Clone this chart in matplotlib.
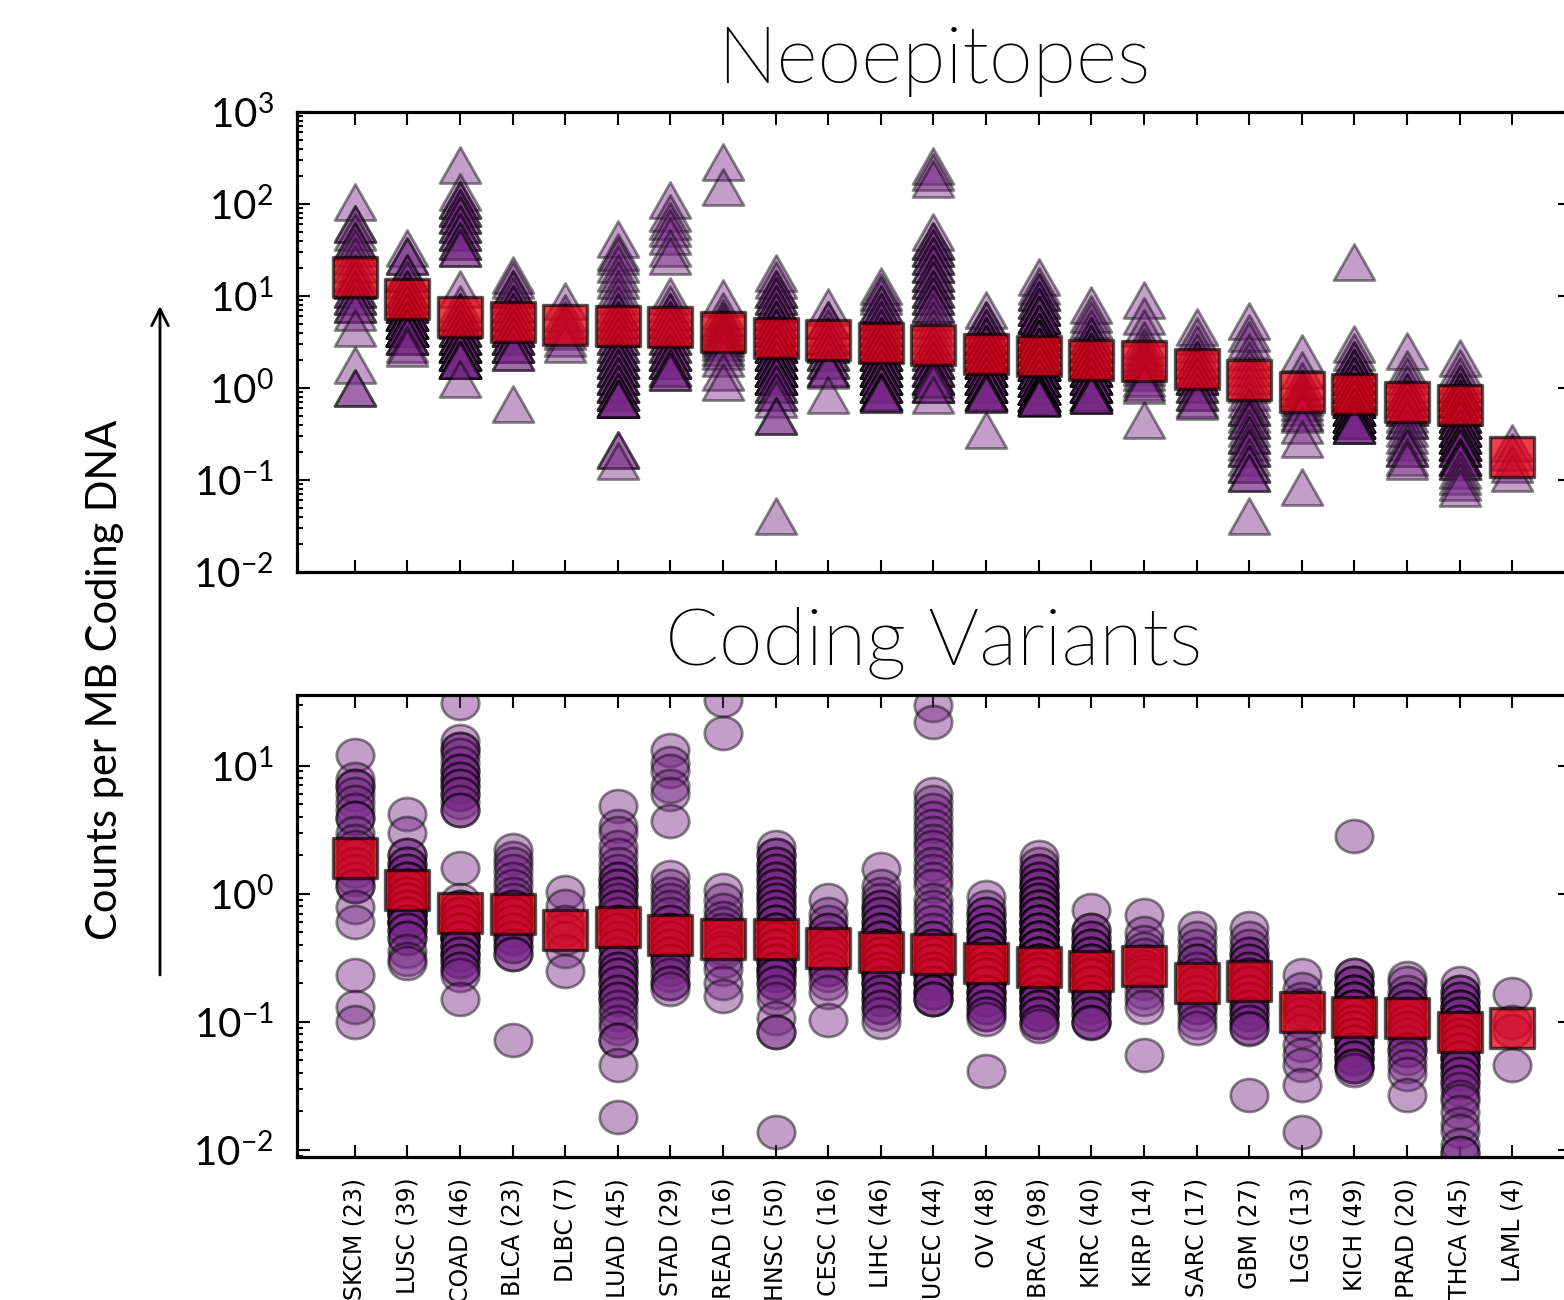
import os
import numpy as np
import matplotlib
matplotlib.use("Agg")
import matplotlib.pyplot as plt
from matplotlib.path import Path
from matplotlib import font_manager as fm

plt.rcParams['font.family'] = ['Lato', 'DejaVu Sans']
plt.rcParams['mathtext.default'] = 'regular'

# cancer types and number of patients
cancers = ['SKCM', 'LUSC', 'COAD', 'BLCA', 'DLBC', 'LUAD', 'STAD', 'READ',
           'HNSC', 'CESC', 'LIHC', 'UCEC', 'OV', 'BRCA', 'KIRC', 'KIRP',
           'SARC', 'GBM', 'LGG', 'KICH', 'PRAD', 'THCA', 'LAML']
patients = [23, 39, 46, 23, 7, 45, 29, 16, 50, 16, 46, 44, 48, 98, 40, 14,
            17, 27, 13, 49, 20, 45, 4]

# medians (red squares)
neo_median = [15.9, 9.3, 5.9, 5.2, 4.8, 4.7, 4.6, 4.1, 3.5, 3.3, 3.07, 2.96,
              2.35, 2.25, 2.04, 1.95, 1.62, 1.22, 0.90, 0.85, 0.70, 0.66, 0.18]
var_median = [1.89, 1.06, 0.71, 0.69, 0.52, 0.55, 0.48, 0.44, 0.44, 0.375,
              0.35, 0.34, 0.29, 0.27, 0.25, 0.275, 0.20, 0.21, 0.12, 0.11,
              0.107, 0.083, 0.089]

# neoepitopes per MB, one list per cancer type
neo_skcm = [104, 60, 60, 50, 40, 40, 33, 27, 22, 18, 15, 15, 12, 12, 10, 10,
            8.2, 8.2, 6.7, 4.5, 1.8, 1.0, 1.0]
neo_lusc = [33, 27, 27, 18, 18, 15, 12, 12, 10, 10, 8.2, 8.2, 8.2, 6.7, 6.7,
            6.7, 6.7, 6.7, 5.5, 5.5, 5.5, 5.5, 5.5, 5.5, 4.5, 4.5, 4.5, 4.5,
            4.5, 4.5, 4.5, 4.5, 4.5, 4.5, 3.7, 3.7, 3.7, 3.0, 2.7]
neo_coad = [265, 135, 110, 110, 90, 90, 75, 75, 60, 60, 50, 50, 40, 40, 33,
            33, 12, 8.2, 6.7, 6.7, 5.5, 5.5, 4.5, 4.5, 4.5, 3.7, 3.7, 3.7, 3.7,
            3.0, 3.0, 3.0, 3.0, 3.0, 2.45, 2.45, 2.45, 2.45, 2.45, 2.0, 2.0,
            2.0, 2.0, 2.0, 2.0, 1.26]
neo_blca = [17, 15, 12, 12, 10, 8.2, 8.2, 6.7, 6.7, 5.5, 5.5, 4.5, 4.5, 4.5,
            3.7, 3.7, 3.7, 3.0, 3.0, 3.0, 2.45, 2.45, 0.67]
neo_dlbc = [8.9, 6.5, 5.5, 4.8, 4.2, 3.5, 3.0]
neo_luad = [42, 30, 27, 22, 18, 15, 12, 10, 8.2, 6.7, 6.7, 5.5, 5.5, 4.5, 4.5,
            3.7, 3.7, 3.0, 3.0, 2.45, 2.45, 2.45, 2.0, 2.0, 2.0, 1.65, 1.65,
            1.65, 1.35, 1.35, 1.35, 1.1, 1.1, 1.1, 0.9, 0.9, 0.9, 0.75, 0.75,
            0.75, 0.75, 0.75, 0.21, 0.21, 0.16]
neo_stad = [110, 80, 65, 55, 45, 33, 27, 10, 8.2, 6.7, 6.7, 5.5, 5.5, 4.5,
            4.5, 3.7, 3.7, 3.0, 3.0, 2.45, 2.45, 2.45, 2.0, 2.0, 2.0, 1.65,
            1.65, 1.5, 1.5]
neo_read = [285, 152, 9.6, 6.8, 5.8, 5.2, 4.6, 4.2, 3.8, 3.5, 3.2, 2.8, 2.5,
            2.1, 1.5, 1.15]
neo_hnsc = [18, 15, 12, 12, 10, 10, 8.2, 8.2, 6.7, 6.7, 5.5, 5.5, 5.5, 4.5,
            4.5, 4.5, 3.7, 3.7, 3.7, 3.0, 3.0, 3.0, 3.0, 2.45, 2.45, 2.45,
            2.45, 2.0, 2.0, 2.0, 2.0, 2.0, 1.65, 1.65, 1.65, 1.65, 1.65, 1.35,
            1.35, 1.35, 1.35, 1.35, 1.1, 1.1, 0.9, 0.9, 0.75, 0.5, 0.5, 0.041]
neo_cesc = [7.6, 5.5, 5.5, 4.5, 3.7, 3.7, 3.0, 3.0, 2.45, 2.45, 2.0, 2.0,
            1.65, 1.65, 1.55, 0.83]
neo_lihc = [13, 11, 10, 8.2, 8.2, 6.7, 6.7, 5.5, 5.5, 4.5, 4.5, 3.7, 3.7, 3.7,
            3.0, 3.0, 3.0, 3.0, 2.45, 2.45, 2.45, 2.45, 2.0, 2.0, 2.0, 2.0,
            2.0, 1.65, 1.65, 1.65, 1.65, 1.65, 1.35, 1.35, 1.35, 1.35, 1.35,
            1.1, 1.1, 1.1, 1.1, 0.9, 0.9, 0.9, 0.85, 0.85]
neo_ucec = [262, 220, 185, 50, 40, 40, 33, 33, 27, 27, 22, 22, 18, 18, 15, 15,
            12, 12, 10, 10, 8.2, 8.2, 6.7, 5.5, 4.5, 3.7, 3.0, 3.0, 2.45, 2.45,
            2.0, 2.0, 2.0, 1.65, 1.65, 1.65, 1.35, 1.35, 1.35, 1.1, 1.1, 1.1,
            1.26, 0.83]
neo_ov = [7.0, 5.5, 5.5, 4.5, 4.5, 3.7, 3.7, 3.7, 3.0, 3.0, 3.0, 3.0, 2.45,
          2.45, 2.45, 2.45, 2.45, 2.0, 2.0, 2.0, 2.0, 2.0, 2.0, 1.65, 1.65,
          1.65, 1.65, 1.65, 1.65, 1.35, 1.35, 1.35, 1.35, 1.35, 1.35, 1.1, 1.1,
          1.1, 1.1, 1.1, 1.1, 0.9, 0.9, 0.9, 0.9, 0.85, 0.85, 0.35]
neo_brca = [16, 13, 11, 11, 9, 9, 7.5, 7.5, 7.5, 6.2, 6.2, 6.2, 6.2, 5, 5, 5,
            5, 5, 4.1, 4.1, 4.1, 4.1, 4.1, 4.1, 3.4, 3.4, 3.4, 3.4, 3.4, 3.4,
            3.4, 2.8, 2.8, 2.8, 2.8, 2.8, 2.8, 2.8, 2.8, 2.3, 2.3, 2.3, 2.3,
            2.3, 2.3, 2.3, 2.3, 2.3, 1.9, 1.9, 1.9, 1.9, 1.9, 1.9, 1.9, 1.9,
            1.9, 1.55, 1.55, 1.55, 1.55, 1.55, 1.55, 1.55, 1.55, 1.55, 1.3,
            1.3, 1.3, 1.3, 1.3, 1.3, 1.3, 1.3, 1.3, 1.05, 1.05, 1.05, 1.05,
            1.05, 1.05, 1.05, 1.05, 1.05, 0.88, 0.88, 0.88, 0.88, 0.88, 0.88,
            0.88, 0.8, 0.8, 0.8, 0.8, 0.8, 0.78, 0.78]
neo_kirc = [8.0, 6.3, 5.5, 4.5, 3.7, 3.7, 3.0, 3.0, 3.0, 2.45, 2.45, 2.45,
            2.45, 2.0, 2.0, 2.0, 2.0, 2.0, 1.65, 1.65, 1.65, 1.65, 1.65, 1.35,
            1.35, 1.35, 1.35, 1.35, 1.1, 1.1, 1.1, 1.1, 1.1, 0.9, 0.9, 0.9,
            0.9, 0.84, 0.84, 0.84]
neo_kirp = [9.0, 6.0, 4.5, 3.3, 2.8, 2.4, 2.1, 1.9, 1.7, 1.5, 1.3, 1.15, 1.07,
            0.45]
neo_sarc = [4.6, 3.7, 3.0, 2.45, 2.0, 2.0, 1.65, 1.65, 1.35, 1.35, 1.35, 1.1,
            1.1, 0.9, 0.9, 0.75, 0.72]
neo_gbm = [5.3, 4.0, 3.3, 2.45, 2.0, 1.65, 1.35, 1.1, 0.9, 0.75, 0.62, 0.62,
           0.52, 0.45, 0.45, 0.37, 0.31, 0.31, 0.26, 0.22, 0.22, 0.18, 0.15,
           0.15, 0.12, 0.12, 0.041]
neo_lgg = [2.4, 1.55, 1.2, 1.0, 0.9, 0.8, 0.7, 0.62, 0.55, 0.52, 0.4, 0.28,
           0.083]
neo_kich = [23.5, 3.0, 2.45, 2.0, 2.0, 1.65, 1.65, 1.65, 1.35, 1.35, 1.35,
            1.35, 1.1, 1.1, 1.1, 1.1, 1.1, 0.9, 0.9, 0.9, 0.9, 0.9, 0.9, 0.75,
            0.75, 0.75, 0.75, 0.75, 0.75, 0.62, 0.62, 0.62, 0.62, 0.62, 0.62,
            0.52, 0.52, 0.52, 0.52, 0.52, 0.52, 0.45, 0.45, 0.45, 0.45, 0.45,
            0.4, 0.4, 0.4]
neo_prad = [2.5, 1.6, 1.35, 1.1, 0.9, 0.9, 0.75, 0.75, 0.62, 0.62, 0.52, 0.45,
            0.45, 0.37, 0.31, 0.26, 0.22, 0.22, 0.18, 0.16]
neo_thca = [2.1, 1.65, 1.35, 1.1, 1.1, 0.9, 0.9, 0.9, 0.75, 0.75, 0.75, 0.62,
            0.62, 0.62, 0.52, 0.52, 0.52, 0.45, 0.45, 0.45, 0.45, 0.37, 0.37,
            0.37, 0.37, 0.31, 0.31, 0.31, 0.31, 0.26, 0.26, 0.26, 0.26, 0.22,
            0.22, 0.22, 0.18, 0.18, 0.18, 0.16, 0.16, 0.13, 0.11, 0.095, 0.081]
neo_laml = [0.25, 0.2, 0.15, 0.12]

# coding variants per MB
var_skcm = [12, 7.9, 6.9, 6.9, 6.0, 5.2, 4.5, 3.9, 3.9, 3.0, 2.6, 2.3, 2.0,
            1.7, 1.5, 1.3, 1.15, 1.15, 0.79, 0.6, 0.23, 0.13, 0.1]
var_lusc = [4.2, 3.0, 2.0, 2.0, 1.7, 1.7, 1.5, 1.5, 1.3, 1.3, 1.3, 1.15, 1.15,
            1.15, 1.0, 1.0, 1.0, 0.9, 0.9, 0.9, 0.79, 0.79, 0.79, 0.79, 0.69,
            0.69, 0.69, 0.69, 0.6, 0.6, 0.6, 0.6, 0.52, 0.52, 0.45, 0.45, 0.36,
            0.31, 0.29]
var_coad = [31, 15.5, 13.5, 13.5, 12, 10.4, 9, 9, 7.9, 7.9, 6.9, 6.9, 6.0,
            6.0, 5.2, 4.5, 4.5, 1.6, 0.9, 0.79, 0.79, 0.69, 0.69, 0.69, 0.6,
            0.6, 0.6, 0.52, 0.52, 0.52, 0.45, 0.45, 0.45, 0.45, 0.39, 0.39,
            0.39, 0.34, 0.34, 0.34, 0.3, 0.3, 0.26, 0.26, 0.23, 0.15]
var_blca = [2.2, 1.9, 1.7, 1.5, 1.3, 1.15, 1.0, 0.9, 0.79, 0.79, 0.69, 0.69,
            0.6, 0.6, 0.52, 0.52, 0.45, 0.45, 0.39, 0.39, 0.34, 0.34, 0.072]
var_dlbc = [1.04, 0.8, 0.6, 0.52, 0.45, 0.36, 0.25]
var_luad = [4.8, 3.4, 3.0, 2.3, 2.0, 1.7, 1.5, 1.3, 1.3, 1.15, 1.15, 1.0, 1.0,
            0.9, 0.79, 0.79, 0.69, 0.6, 0.6, 0.52, 0.52, 0.45, 0.39, 0.39,
            0.34, 0.3, 0.3, 0.26, 0.26, 0.23, 0.23, 0.2, 0.2, 0.17, 0.17, 0.15,
            0.15, 0.13, 0.115, 0.1, 0.09, 0.072, 0.072, 0.046, 0.018]
var_stad = [13.3, 10.4, 9.0, 6.9, 6.0, 3.7, 1.35, 1.15, 1.0, 0.9, 0.79, 0.69,
            0.6, 0.6, 0.52, 0.52, 0.45, 0.45, 0.39, 0.39, 0.34, 0.34, 0.3, 0.3,
            0.26, 0.23, 0.2, 0.2, 0.18]
var_read = [32.6, 18, 1.07, 0.9, 0.75, 0.65, 0.58, 0.52, 0.47, 0.42, 0.38,
            0.35, 0.3, 0.26, 0.2, 0.16]
var_hnsc = [2.3, 2.0, 2.0, 1.7, 1.7, 1.5, 1.5, 1.3, 1.3, 1.15, 1.15, 1.0, 1.0,
            0.9, 0.9, 0.79, 0.79, 0.69, 0.69, 0.6, 0.6, 0.6, 0.52, 0.52, 0.52,
            0.45, 0.45, 0.45, 0.39, 0.39, 0.39, 0.34, 0.34, 0.34, 0.3, 0.3,
            0.3, 0.26, 0.26, 0.26, 0.23, 0.23, 0.2, 0.2, 0.17, 0.15, 0.107,
            0.083, 0.083, 0.0138]
var_cesc = [0.9, 0.69, 0.6, 0.52, 0.52, 0.45, 0.39, 0.39, 0.34, 0.3, 0.26,
            0.26, 0.23, 0.2, 0.17, 0.104]
var_lihc = [1.55, 1.15, 1.0, 0.9, 0.79, 0.79, 0.69, 0.69, 0.6, 0.6, 0.52,
            0.52, 0.52, 0.45, 0.45, 0.45, 0.39, 0.39, 0.39, 0.39, 0.34, 0.34,
            0.34, 0.34, 0.3, 0.3, 0.3, 0.3, 0.26, 0.26, 0.26, 0.26, 0.23, 0.23,
            0.23, 0.2, 0.2, 0.2, 0.17, 0.17, 0.15, 0.15, 0.13, 0.13, 0.115, 0.1]
var_ucec = [30, 22, 6.0, 5.2, 4.5, 3.9, 3.4, 3.0, 2.6, 2.3, 2.0, 1.7, 1.5, 1.3,
            1.15, 0.9, 0.79, 0.69, 0.6, 0.52, 0.45, 0.45, 0.39, 0.39, 0.34,
            0.34, 0.3, 0.3, 0.3, 0.26, 0.26, 0.26, 0.23, 0.23, 0.23, 0.2, 0.2,
            0.2, 0.17, 0.17, 0.17, 0.15, 0.15, 0.15]
var_ov = [0.95, 0.79, 0.69, 0.69, 0.6, 0.6, 0.52, 0.52, 0.52, 0.45, 0.45,
          0.45, 0.39, 0.39, 0.39, 0.39, 0.34, 0.34, 0.34, 0.34, 0.3, 0.3, 0.3,
          0.3, 0.26, 0.26, 0.26, 0.26, 0.23, 0.23, 0.23, 0.23, 0.2, 0.2, 0.2,
          0.2, 0.17, 0.17, 0.17, 0.15, 0.15, 0.15, 0.13, 0.13, 0.115, 0.115,
          0.105, 0.041]
var_brca = [1.95, 1.7, 1.5, 1.5, 1.3, 1.3, 1.15, 1.15, 1.15, 1.0, 1.0, 1.0,
            0.9, 0.9, 0.9, 0.79, 0.79, 0.79, 0.79, 0.69, 0.69, 0.69, 0.69,
            0.6, 0.6, 0.6, 0.6, 0.6, 0.52, 0.52, 0.52, 0.52, 0.52, 0.45, 0.45,
            0.45, 0.45, 0.45, 0.45, 0.39, 0.39, 0.39, 0.39, 0.39, 0.39, 0.34,
            0.34, 0.34, 0.34, 0.34, 0.34, 0.34, 0.3, 0.3, 0.3, 0.3, 0.3, 0.3,
            0.3, 0.26, 0.26, 0.26, 0.26, 0.26, 0.26, 0.26, 0.23, 0.23, 0.23,
            0.23, 0.23, 0.23, 0.23, 0.2, 0.2, 0.2, 0.2, 0.2, 0.2, 0.17, 0.17,
            0.17, 0.17, 0.17, 0.15, 0.15, 0.15, 0.15, 0.13, 0.13, 0.13, 0.13,
            0.115, 0.115, 0.115, 0.1, 0.1, 0.092]
var_kirc = [0.74, 0.52, 0.52, 0.45, 0.45, 0.39, 0.39, 0.39, 0.34, 0.34, 0.34,
            0.3, 0.3, 0.3, 0.3, 0.26, 0.26, 0.26, 0.26, 0.23, 0.23, 0.23, 0.23,
            0.2, 0.2, 0.2, 0.2, 0.17, 0.17, 0.17, 0.15, 0.15, 0.15, 0.13, 0.13,
            0.115, 0.115, 0.1, 0.1, 0.097]
var_kirp = [0.68, 0.49, 0.42, 0.37, 0.33, 0.3, 0.27, 0.25, 0.23, 0.2, 0.17,
            0.15, 0.13, 0.055]
var_sarc = [0.54, 0.45, 0.39, 0.34, 0.3, 0.3, 0.26, 0.23, 0.2, 0.2, 0.17,
            0.15, 0.13, 0.13, 0.115, 0.1, 0.09]
var_gbm = [0.54, 0.45, 0.39, 0.34, 0.34, 0.3, 0.3, 0.26, 0.26, 0.23, 0.23,
           0.2, 0.2, 0.2, 0.17, 0.17, 0.15, 0.15, 0.13, 0.13, 0.115, 0.115,
           0.1, 0.1, 0.09, 0.088, 0.027]
var_lgg = [0.23, 0.18, 0.15, 0.135, 0.125, 0.115, 0.1, 0.085, 0.066, 0.055,
           0.046, 0.032, 0.0138]
var_kich = [2.8, 0.23, 0.23, 0.2, 0.2, 0.2, 0.17, 0.17, 0.17, 0.17, 0.15,
            0.15, 0.15, 0.15, 0.13, 0.13, 0.13, 0.13, 0.115, 0.115, 0.115,
            0.115, 0.1, 0.1, 0.1, 0.1, 0.09, 0.09, 0.09, 0.09, 0.079, 0.079,
            0.079, 0.079, 0.069, 0.069, 0.069, 0.069, 0.06, 0.06, 0.06, 0.06,
            0.052, 0.052, 0.052, 0.045, 0.045, 0.045, 0.042]
var_prad = [0.22, 0.2, 0.17, 0.15, 0.15, 0.13, 0.13, 0.115, 0.1, 0.1, 0.09,
            0.09, 0.079, 0.069, 0.06, 0.06, 0.052, 0.045, 0.039, 0.027]
var_thca = [0.2, 0.17, 0.17, 0.15, 0.15, 0.13, 0.13, 0.13, 0.115, 0.115,
            0.115, 0.1, 0.1, 0.1, 0.09, 0.09, 0.09, 0.079, 0.079, 0.079, 0.069,
            0.069, 0.069, 0.06, 0.06, 0.06, 0.052, 0.052, 0.052, 0.045, 0.045,
            0.045, 0.039, 0.039, 0.034, 0.034, 0.03, 0.026, 0.024, 0.0196,
            0.016, 0.014, 0.011, 0.0094, 0.0094]
var_laml = [0.165, 0.1, 0.085, 0.046]

neo_points = [neo_skcm, neo_lusc, neo_coad, neo_blca, neo_dlbc, neo_luad,
              neo_stad, neo_read, neo_hnsc, neo_cesc, neo_lihc, neo_ucec,
              neo_ov, neo_brca, neo_kirc, neo_kirp, neo_sarc, neo_gbm,
              neo_lgg, neo_kich, neo_prad, neo_thca, neo_laml]
var_points = [var_skcm, var_lusc, var_coad, var_blca, var_dlbc, var_luad,
              var_stad, var_read, var_hnsc, var_cesc, var_lihc, var_ucec,
              var_ov, var_brca, var_kirc, var_kirp, var_sarc, var_gbm,
              var_lgg, var_kich, var_prad, var_thca, var_laml]

# a light weight font for the titles, if one is installed
light_files = [f.fname for f in fm.fontManager.ttflist
               if f.name == 'Lato'
               and 'light' in os.path.basename(f.fname).lower()
               and 'italic' not in os.path.basename(f.fname).lower()]
if light_files:
    title_font = fm.FontProperties(fname=light_files[0], size=57)
else:
    title_font = fm.FontProperties(family='Lato', size=57)

# markers slightly squashed vertically, like the original picture
squash = 0.88
tri = Path([(0, squash), (-1, -squash), (1, -squash), (0, squash)],
           [Path.MOVETO, Path.LINETO, Path.LINETO, Path.CLOSEPOLY])
circ = Path(Path.unit_circle().vertices * [1, squash], Path.unit_circle().codes)
sq = Path([(-1, -squash), (1, -squash), (1, squash), (-1, squash), (-1, -squash)],
          [Path.MOVETO, Path.LINETO, Path.LINETO, Path.LINETO, Path.CLOSEPOLY])

purple = (0.47, 0.16, 0.53)
red = (0.9, 0.0, 0.08, 0.75)

W, H = 1564, 1300
fig = plt.figure(figsize=(W / 100, H / 100), dpi=100)
ax1 = fig.add_axes([297 / W, 1 - 572 / H, (1570 - 297) / W, 460 / H])
ax2 = fig.add_axes([297 / W, 1 - 1157 / H, (1570 - 297) / W, 462 / H])

xs = np.arange(len(cancers))


def draw(ax, points, medians, marker, ms):
    for i, vals in enumerate(points):
        ax.plot([i] * len(vals), vals, linestyle='none', marker=marker, ms=ms,
                mfc=purple, mec='k', mew=2.0, alpha=0.45, zorder=2)
    # median squares: red fill, semi transparent dark edge
    ax.plot(xs, medians, linestyle='none', marker=sq, ms=32, mfc=red,
            mec=(0, 0, 0, 0.65), mew=2.4, zorder=3)
    ax.set_yscale('log')
    ax.set_xlim(-1.1, 23.1)
    ax.set_xticks(xs)
    for s in ax.spines.values():
        s.set_linewidth(2.3)
    ax.tick_params(which='both', direction='in', top=True, right=True,
                   width=1.5)
    ax.tick_params(which='major', length=9, labelsize=29, pad=17)
    ax.tick_params(which='minor', length=4.5)


draw(ax1, neo_points, neo_median, tri, 29.5)
draw(ax2, var_points, var_median, circ, 27)

ax1.set_ylim(1e-2, 1e3)
ax2.set_ylim(0.0088, 35.6)
ax1.set_xticklabels([])
ax2.set_xticklabels([f'{c} ({n})' for c, n in zip(cancers, patients)],
                    rotation=90, fontsize=17, fontfamily='DejaVu Sans')
ax2.tick_params(axis='x', pad=15)

ax1.set_title('Neoepitopes', fontproperties=title_font, pad=21)
ax2.set_title('Coding Variants', fontproperties=title_font, pad=22)

fig.text(105 / W, 1 - 680 / H, 'Counts per MB Coding DNA', rotation=90,
         ha='center', va='center', fontsize=30)
ax1.annotate('', xy=(160 / W, 1 - 306 / H), xytext=(160 / W, 1 - 975 / H),
             xycoords='figure fraction', textcoords='figure fraction',
             arrowprops=dict(arrowstyle='->, head_length=0.6, head_width=0.3',
                             lw=2, color='k', mutation_scale=20,
                             shrinkA=0, shrinkB=0),
             annotation_clip=False)

fig.savefig('out.png', dpi=100)
